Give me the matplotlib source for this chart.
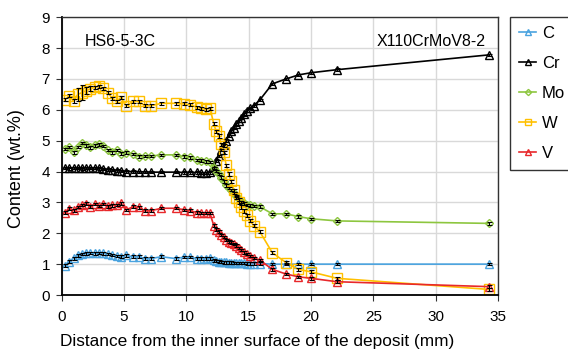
import matplotlib
matplotlib.use('Agg')
import matplotlib.pyplot as plt
import numpy as np

plt.rcParams['font.family'] = ['Liberation Sans', 'DejaVu Sans']

# measurement positions (mm from inner surface)
x_left = [0.25, 0.6, 0.95, 1.3, 1.65, 1.95, 2.3, 2.65, 3.0, 3.35, 3.7, 4.05, 4.4, 4.75,
          5.15, 5.75, 6.2, 6.65, 7.15, 8.0, 9.15, 9.85, 10.3, 10.85, 11.2, 11.55, 11.9]
x_dense = [12.2, 12.4, 12.6, 12.8, 13.0, 13.2, 13.4, 13.6, 13.8, 14.0, 14.2, 14.4, 14.6,
           14.9, 15.1, 15.4, 15.9]
x_far = [16.9, 18.0, 19.0, 20.0, 22.1, 34.3]
distance = x_left + x_dense + x_far

c_vals = [0.95, 1.08, 1.19, 1.28, 1.33, 1.35, 1.36, 1.35, 1.36, 1.35, 1.33, 1.30, 1.27, 1.24,
          1.28, 1.24, 1.24, 1.18, 1.18, 1.24, 1.18, 1.23, 1.23, 1.18, 1.18, 1.18, 1.19,
          1.12, 1.10, 1.08, 1.07, 1.06, 1.06, 1.05, 1.05, 1.04, 1.04, 1.03, 1.03, 1.03,
          1.02, 1.02, 1.02, 1.02,
          1.0, 1.0, 1.0, 1.0, 1.0, 1.0]
cr_vals = [4.12, 4.10, 4.12, 4.11, 4.10, 4.12, 4.11, 4.12, 4.10, 4.08, 4.06, 4.05, 4.03, 4.02,
           4.00, 4.00, 3.99, 3.99, 3.98, 3.98, 3.98, 3.97, 3.97, 3.97, 3.96, 3.96, 3.97,
           4.10, 4.35, 4.50, 4.70, 4.85, 5.00, 5.15, 5.30, 5.42, 5.53, 5.63, 5.73, 5.85,
           5.97, 6.05, 6.13, 6.32,
           6.84, 7.00, 7.13, 7.20, 7.30, 7.78]
mo_vals = [4.73, 4.80, 4.62, 4.80, 4.92, 4.85, 4.78, 4.85, 4.88, 4.82, 4.70, 4.62, 4.70, 4.58,
           4.61, 4.57, 4.48, 4.50, 4.50, 4.54, 4.54, 4.48, 4.46, 4.38, 4.35, 4.33, 4.31,
           4.12, 4.02, 3.92, 3.80, 3.68, 3.55, 3.47, 3.40, 3.30, 3.20, 3.10, 3.02, 2.97,
           2.92, 2.90, 2.88, 2.86,
           2.63, 2.63, 2.54, 2.47, 2.40, 2.32]
w_vals = [6.32, 6.45, 6.28, 6.50, 6.56, 6.62, 6.68, 6.73, 6.76, 6.70, 6.55, 6.38, 6.27, 6.40,
          6.13, 6.27, 6.27, 6.13, 6.13, 6.21, 6.21, 6.19, 6.16, 6.08, 6.05, 6.02, 6.05,
          5.55, 5.30, 5.15, 4.88, 4.62, 4.20, 3.92, 3.68, 3.40, 3.15, 3.00, 2.85, 2.72,
          2.58, 2.40, 2.25, 2.05,
          1.37, 1.05, 0.83, 0.75, 0.54, 0.18]
v_vals = [2.67, 2.80, 2.74, 2.85, 2.92, 2.96, 2.86, 2.95, 2.88, 2.95, 2.87, 2.90, 2.92, 2.97,
          2.76, 2.86, 2.84, 2.73, 2.73, 2.81, 2.81, 2.76, 2.73, 2.67, 2.66, 2.65, 2.65,
          2.25, 2.12, 2.05, 1.95, 1.88, 1.78, 1.73, 1.70, 1.65, 1.60, 1.52, 1.45, 1.38,
          1.32, 1.26, 1.20, 1.13,
          0.83, 0.68, 0.59, 0.54, 0.43, 0.27]

w_err = [0.05, 0.05, 0.06, 0.2, 0.25, 0.12, 0.08] + [0.05] * 43
err = 0.04

series = [
    ('C', c_vals, '#4aa3df', '^', 6),
    ('Cr', cr_vals, 'black', '^', 6),
    ('Mo', mo_vals, '#8dc63f', 'D', 4.5),
    ('W', w_vals, '#ffc000', 's', 6.5),
    ('V', v_vals, '#e8282b', '^', 6),
]

fig = plt.figure(figsize=(5.68, 3.53), dpi=100)
ax = fig.add_axes([0.1086, 0.1643, 0.768, 0.787])

for name, vals, col, mk, ms in series:
    yerr = w_err if name == 'W' else err
    ax.errorbar(distance, vals, yerr=yerr, fmt='none', ecolor='black',
                elinewidth=0.8, capsize=1.8, capthick=0.8, zorder=3)
    ax.plot(distance, vals, color=col, marker=mk, markersize=ms,
            markerfacecolor='none', markeredgecolor=col, markeredgewidth=1.0,
            linewidth=1.2, label=name, zorder=2)

ax.set_xlim(0, 35)
ax.set_ylim(0, 9)
ax.set_xticks(range(0, 36, 5))
ax.set_yticks(range(0, 10))
ax.grid(True, color='#d9d9d9', linewidth=1.0)
ax.set_axisbelow(True)
ax.tick_params(labelsize=11, direction='out', length=4.5, color='#333333')
ax.tick_params(axis='x', pad=6)
ax.tick_params(axis='y', pad=4)
for s in ['left', 'bottom']:
    ax.spines[s].set_color('black')
    ax.spines[s].set_linewidth(1.3)
for s in ['top', 'right']:
    ax.spines[s].set_color('#333333')
    ax.spines[s].set_linewidth(1.0)

ax.set_xlabel('Distance from the inner surface of the deposit (mm)', fontsize=12.4)
ax.set_ylabel('Content (wt.%)', fontsize=13)
ax.xaxis.set_label_coords(0.449, -0.14)
ax.yaxis.set_label_coords(-0.084, 0.454)

ax.text(1.85, 8.2, 'HS6-5-3C', fontsize=11.5, va='center', ha='left')
ax.text(34.0, 8.2, 'X110CrMoV8-2', fontsize=11.5, va='center', ha='right')

leg = fig.legend(loc='upper left', bbox_to_anchor=(0.898, 0.952), fontsize=12,
                 frameon=True, fancybox=False, edgecolor='black', labelspacing=0.9,
                 handlelength=1.0, handletextpad=0.35, borderpad=0.55, borderaxespad=0,
                 markerscale=0.7)
leg.get_frame().set_linewidth(1.0)

fig.savefig('out.png', dpi=100)
